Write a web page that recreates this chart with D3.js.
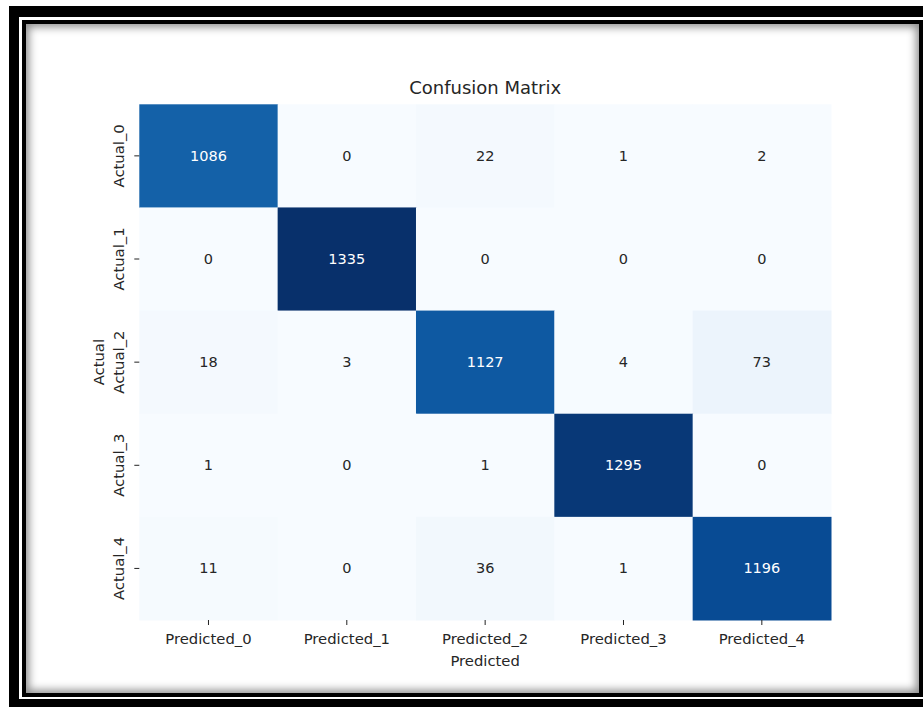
<!DOCTYPE html>
<html>
<head>
<meta charset="utf-8">
<script src="https://cdn.jsdelivr.net/npm/d3@7"></script>
<style>
  html, body { margin: 0; padding: 0; background: #fff; overflow: hidden; }
  body { width: 923px; height: 707px; position: relative; font-family: "DejaVu Sans", sans-serif; }
  .outer { position: absolute; left: 9px; top: 6px; width: 940px; height: 720px; background: #000; }
  .gap { position: absolute; left: 19px; top: 17px; width: 930px; height: 682px; background: #fff; }
  .inner { position: absolute; left: 22px; top: 20px; width: 893px; height: 669px;
           border: 4px solid #000; background: #fff;
           box-shadow: inset 0 0 9px 3px rgba(0,0,0,0.45); }
  svg { position: absolute; left: 0; top: 0; }
</style>
</head>
<body>
<div class="outer"></div>
<div class="gap"></div>
<div class="inner"></div>
<svg id="chart" width="923" height="707"></svg>
<script>
// Confusion matrix counts: rows are the actual class, columns the predicted class
const rowLabels = ["Actual_0", "Actual_1", "Actual_2", "Actual_3", "Actual_4"];
const colLabels = ["Predicted_0", "Predicted_1", "Predicted_2", "Predicted_3", "Predicted_4"];
const counts = [
  [1086,    0,   22,    1,    2],
  [   0, 1335,    0,    0,    0],
  [  18,    3, 1127,    4,   73],
  [   1,    0,    1, 1295,    0],
  [  11,    0,   36,    1, 1196]
];
const titleText = "Confusion Matrix";
const xAxisLabel = "Predicted";
const yAxisLabel = "Actual";

// Blues colour ramp (linear segments between the nine ColorBrewer stops)
const bluesStops = ["#f7fbff", "#deebf7", "#c6dbef", "#9ecae1", "#6baed6",
                    "#4292c6", "#2171b5", "#08519c", "#08306b"];

const svg = d3.select("#chart");
const plotLeft = 139.3, plotRight = 831, plotTop = 104.3, plotBottom = 620;

const x = d3.scaleBand().domain(colLabels).range([plotLeft, plotRight]).padding(0);
const y = d3.scaleBand().domain(rowLabels).range([plotTop, plotBottom]).padding(0);

const flat = counts.flat();
const vmin = d3.min(flat), vmax = d3.max(flat);
const norm = d3.scaleLinear().domain([vmin, vmax]).range([0, 1]);
const ramp = d3.scaleLinear()
  .domain(bluesStops.map((_, i) => i / (bluesStops.length - 1)))
  .range(bluesStops)
  .interpolate(d3.interpolateRgb);
const color = v => ramp(norm(v));

const cells = [];
counts.forEach((row, i) => row.forEach((v, j) => cells.push({ r: rowLabels[i], c: colLabels[j], v })));

// Cells
svg.append("g").selectAll("rect").data(cells).join("rect")
  .attr("x", d => x(d.c))
  .attr("y", d => y(d.r))
  .attr("width", x.bandwidth() + 0.5)
  .attr("height", y.bandwidth() + 0.5)
  .attr("fill", d => color(d.v));

// Luminance-based text colour for the annotations
function textColor(v) {
  const c = d3.rgb(color(v));
  const lin = u => { u /= 255; return u <= 0.03928 ? u / 12.92 : Math.pow((u + 0.055) / 1.055, 2.4); };
  const lum = 0.2126 * lin(c.r) + 0.7152 * lin(c.g) + 0.0722 * lin(c.b);
  return lum > 0.408 ? "#262626" : "#ffffff";
}

svg.append("g").selectAll("text").data(cells).join("text")
  .attr("x", d => x(d.c) + x.bandwidth() / 2)
  .attr("y", d => y(d.r) + y.bandwidth() / 2)
  .attr("text-anchor", "middle")
  .attr("dominant-baseline", "central")
  .attr("font-size", "14.5px")
  .attr("fill", d => textColor(d.v))
  .text(d => d.v);

// Bottom axis
const xAxis = svg.append("g")
  .attr("transform", `translate(0,${plotBottom})`)
  .call(d3.axisBottom(x).tickSize(5).tickPadding(8.5));
xAxis.select(".domain").remove();
xAxis.selectAll("line").attr("stroke", "#222").attr("stroke-width", 1);
xAxis.selectAll("text")
  .attr("font-family", "DejaVu Sans, sans-serif")
  .attr("font-size", "14.8px")
  .attr("fill", "#262626");

// Left axis with rotated labels
const yAxis = svg.append("g")
  .attr("transform", `translate(${plotLeft},0)`)
  .call(d3.axisLeft(y).tickSize(5).tickPadding(5));
yAxis.select(".domain").remove();
yAxis.selectAll("line").attr("stroke", "#222").attr("stroke-width", 1);
yAxis.selectAll("text")
  .attr("font-family", "DejaVu Sans, sans-serif")
  .attr("font-size", "14.8px")
  .attr("fill", "#262626")
  .attr("x", null).attr("dy", null)
  .attr("text-anchor", "middle")
  .attr("transform", "translate(-15,0) rotate(-90)");

// Title and axis labels
svg.append("text")
  .attr("x", (plotLeft + plotRight) / 2)
  .attr("y", 94)
  .attr("text-anchor", "middle")
  .attr("font-size", "18px")
  .attr("fill", "#262626")
  .text(titleText);

svg.append("text")
  .attr("x", (plotLeft + plotRight) / 2)
  .attr("y", 666)
  .attr("text-anchor", "middle")
  .attr("font-size", "14.8px")
  .attr("fill", "#262626")
  .text(xAxisLabel);

svg.append("text")
  .attr("transform", `translate(103.5,${(plotTop + plotBottom) / 2}) rotate(-90)`)
  .attr("text-anchor", "middle")
  .attr("font-size", "14.8px")
  .attr("fill", "#262626")
  .text(yAxisLabel);
</script>
</body>
</html>
